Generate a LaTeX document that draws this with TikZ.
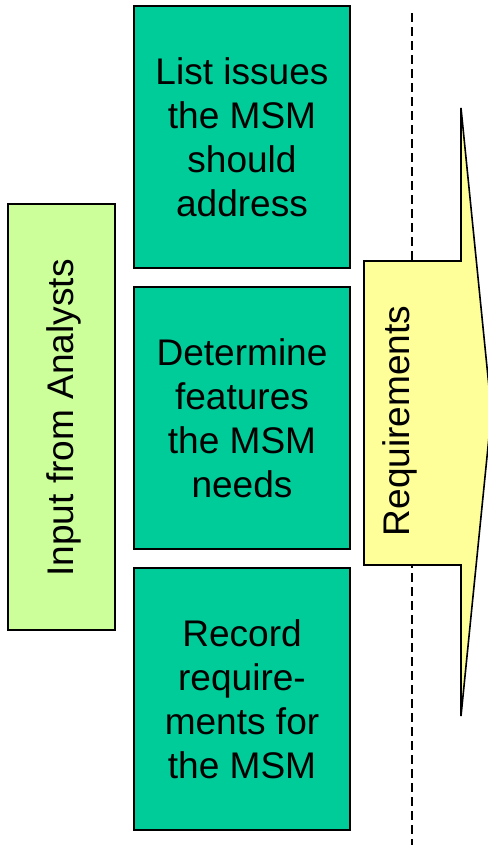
\documentclass[tikz,border=0pt]{standalone}
\usepackage{fontspec}
\setmainfont{Liberation Sans}
\definecolor{boxgreen}{RGB}{0,204,153}
\definecolor{lightgreen}{RGB}{204,255,153}
\definecolor{lightyellow}{RGB}{255,255,153}
\tikzset{
  bigtext/.style={font=\fontsize{37.2}{44}\selectfont, align=center},
  stepbox/.style={draw=black, line width=1.6bp, fill=boxgreen, minimum width=216bp, minimum height=262bp, inner sep=0pt, bigtext},
  inputbox/.style={draw=black, line width=1.6bp, fill=lightgreen, minimum width=107.5bp, minimum height=426bp, inner sep=0pt},
  divider/.style={line width=2bp, dash pattern=on 9bp off 5bp},
  reqarrow/.style={draw=black, line width=1.6bp, fill=lightyellow, line join=miter}
}
\begin{document}
\begin{tikzpicture}[x=1bp,y=-1bp]
  \useasboundingbox (0,0) rectangle (488,845);
  \clip (0,0) rectangle (488,845);
  % dashed divider
  \coordinate (dtop) at (412,13);
  \coordinate (dbot) at (412,845);
  \draw[divider] (dtop) -- (dbot);
  % input box
  \node[inputbox] (input) at (61.5,417) {};
  \node[bigtext, rotate=90] (inputtxt) at (63.5,418) {Input from Analysts};
  % step boxes
  \node[stepbox] (s1) at (242,137) {List issues\\the MSM\\should\\address};
  \node[stepbox] (s2) at (242,418) {Determine\\features\\the MSM\\needs};
  \node[stepbox] (s3) at (242,699) {Record\\require-\\ments for\\the MSM};
  % requirements arrow
  \draw[reqarrow] (364,261) -- (461,261) -- (461,108) -- (491.5,412) -- (461,716) -- (461,565) -- (364,565) -- cycle;
  \node[bigtext, rotate=90] (req) at (400,421) {Requirements};
\end{tikzpicture}
\end{document}
